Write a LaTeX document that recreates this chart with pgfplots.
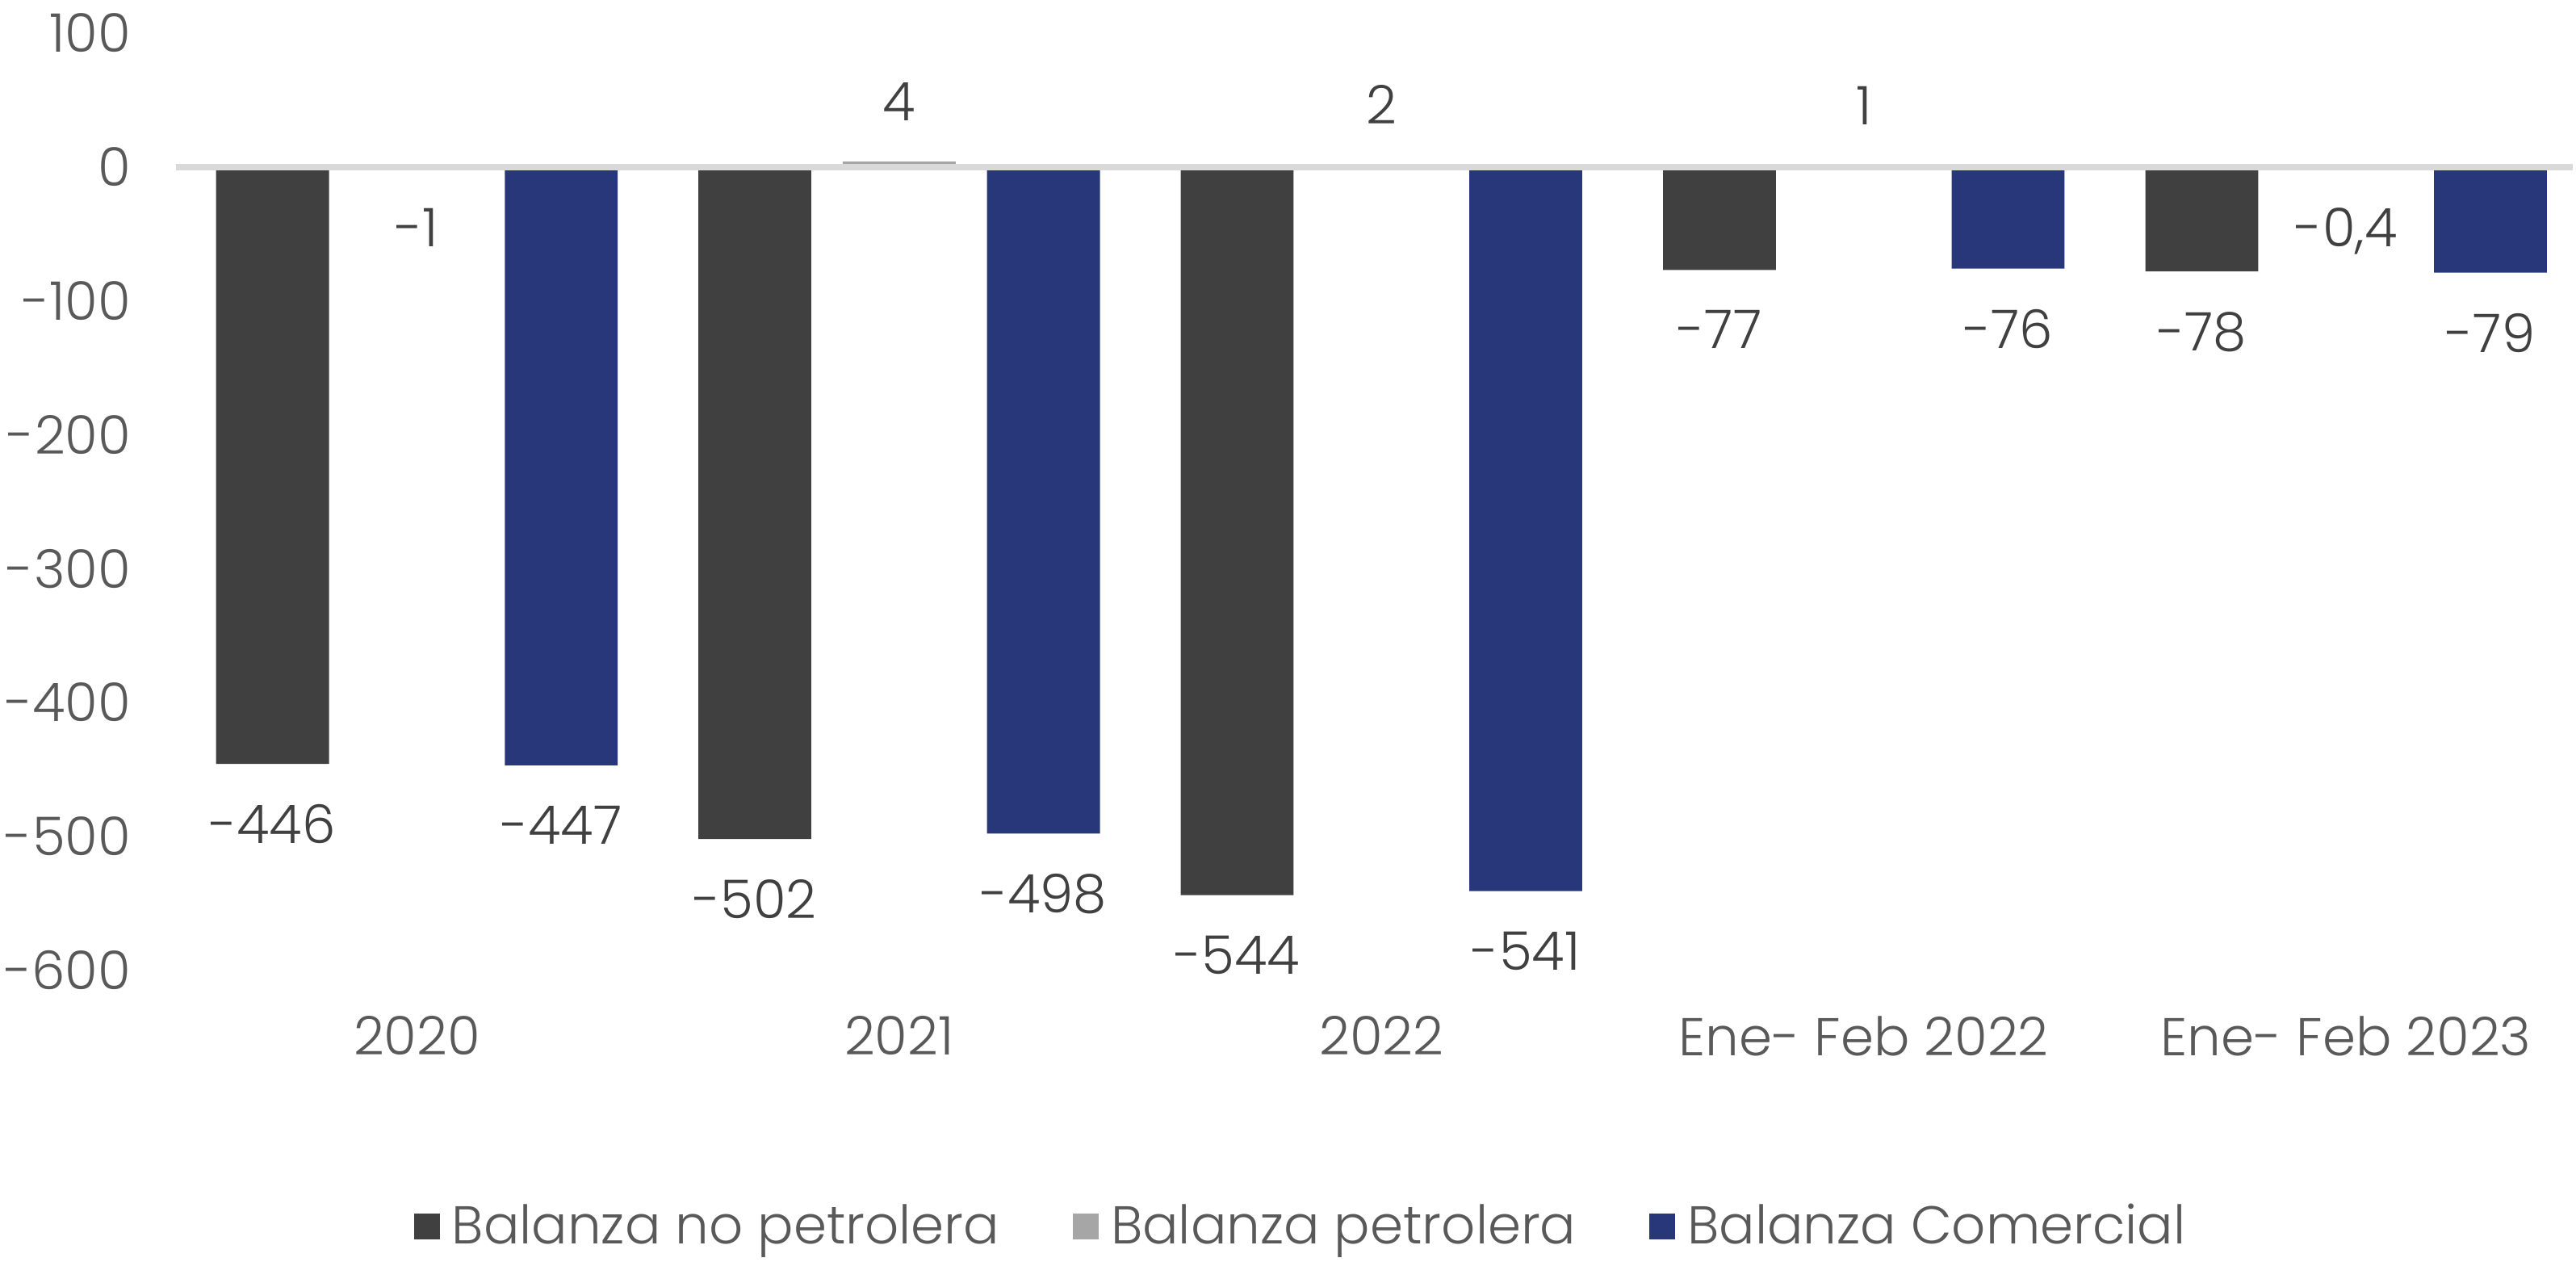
\documentclass[border=0pt]{standalone}
\usepackage{fontspec}
\setmainfont{Poppins Light}
\usepackage{pgfplots}
\pgfplotsset{compat=1.18}
\definecolor{cdark}{HTML}{404040}
\definecolor{cgray}{HTML}{A6A6A6}
\definecolor{cnavy}{HTML}{28377A}
\definecolor{ctxt}{HTML}{595959}
\definecolor{czero}{HTML}{D9D9D9}
\newcommand\chfont{\fontsize{16.5}{20}\selectfont}
\begin{document}
\begin{tikzpicture}
\begin{axis}[
 scale only axis, width=743.25pt, height=290.5pt,
 xmin=-0.5, xmax=4.47, ymin=-600, ymax=100,
 clip=false,
 axis line style={draw=none},
 major tick length=0pt,
 xtick={0,...,4},
 xticklabels={2020,2021,2022,Ene- Feb 2022,Ene- Feb 2023},
 ytick={-600,-500,...,100},
 tick label style={font=\chfont, text=ctxt},
 /pgf/number format/assume math mode=true,
 yticklabel style={anchor=east, inner sep=0pt, xshift=-13.75pt},
 xticklabel style={anchor=north, inner sep=0pt, yshift=-14pt},
 extra y ticks={0}, extra y tick labels={},
 extra y tick style={grid=major, major grid style={czero, line width=2pt}},
 axis on top,
 ybar, bar width=35pt,
 nodes near coords,
 nodes near coords style={font=\chfont, text=cdark, inner ysep=12.4pt, inner xsep=0pt, /pgf/number format/use comma, /pgf/number format/assume math mode=true},
 legend columns=3,
 legend style={at={(0.469,-0.2735)}, anchor=center, draw=none, fill=none, font=\chfont, text=ctxt, inner sep=0pt,
   /tikz/every odd column/.append style={column sep=3.75pt},
   /tikz/every even column/.append style={column sep=22.75pt},
   nodes={inner sep=0pt}},
 legend cell align=left,
 legend image code/.code={\fill[#1] (0pt,-4pt) rectangle (8pt,4pt);},
]
\addplot[fill=cdark, draw=none, bar shift=-44.75pt] coordinates {(0,-446) (1,-502) (2,-544) (3,-77) (4,-78)};
\addplot[fill=cgray, draw=none, bar shift=0pt] coordinates {(0,-1) (1,4) (2,2) (3,1) (4,-0.4)};
\addplot[fill=cnavy, draw=none, bar shift=44.75pt] coordinates {(0,-447) (1,-498) (2,-541) (3,-76) (4,-79)};
\legend{Balanza no petrolera, Balanza petrolera, Balanza Comercial}
\path (rel axis cs:-0.0733,-0.3107) rectangle (rel axis cs:1,1.0353);
\end{axis}
\end{tikzpicture}
\end{document}
